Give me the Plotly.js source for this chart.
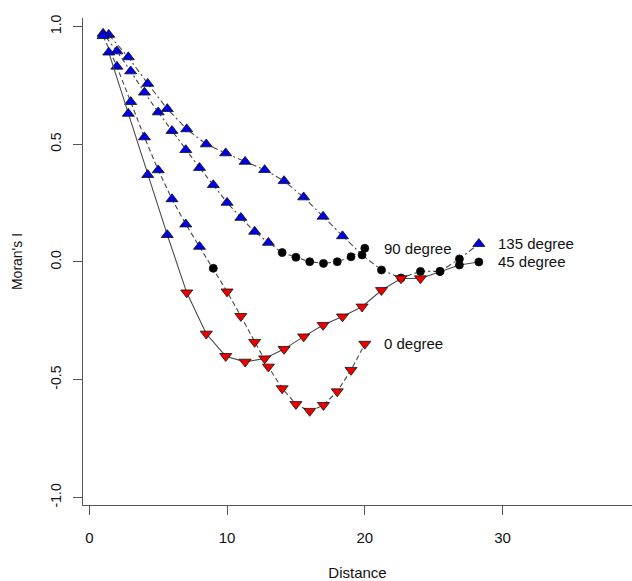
<!DOCTYPE html>
<html>
<head>
<meta charset="utf-8">
<script src="https://cdn.plot.ly/plotly-3.0.1.min.js"></script>
<style>html,body{margin:0;padding:0;background:#fff;}#chart{width:632px;height:581px;}</style>
</head>
<body>
<div id="chart"></div>
<script>
// Distance classes
var distAxial = [1, 2, 3, 4, 5, 6, 7, 8, 9, 10, 11, 12, 13, 14, 15, 16, 17, 18, 19, 20];
var distDiag = [1.41, 2.83, 4.24, 5.66, 7.07, 8.49, 9.90, 11.31, 12.73, 14.14, 15.56, 16.97, 18.38, 19.80, 21.21, 22.63, 24.04, 25.46, 26.87, 28.28];

// Moran's I values
var moran0 = [0.96, 0.83, 0.68, 0.53, 0.39, 0.267, 0.16, 0.065, -0.027, -0.126, -0.23, -0.34, -0.445, -0.537, -0.604, -0.633, -0.608, -0.55, -0.459, -0.348];
var moran90 = [0.97, 0.895, 0.81, 0.72, 0.636, 0.557, 0.476, 0.40, 0.327, 0.252, 0.188, 0.129, 0.082, 0.04, 0.02, 0.001, -0.006, 0.001, 0.022, 0.058];
var moran45 = [0.89, 0.63, 0.37, 0.115, -0.13, -0.305, -0.40, -0.424, -0.41, -0.37, -0.317, -0.268, -0.232, -0.19, -0.12, -0.07, -0.07, -0.04, -0.013, 0.0];
var moran135 = [0.965, 0.87, 0.757, 0.65, 0.564, 0.50, 0.462, 0.426, 0.391, 0.344, 0.275, 0.193, 0.11, 0.03, -0.034, -0.068, -0.04, -0.04, 0.013, 0.077];

// significance: "+" positive, "-" negative, "n" not significant
var sig0 = ["+","+","+","+","+","+","+","+","n","-","-","-","-","-","-","-","-","-","-","-"];
var sig90 = ["+","+","+","+","+","+","+","+","+","+","+","+","+","n","n","n","n","n","n","n"];
var sig45 = ["+","+","+","+","-","-","-","-","-","-","-","-","-","-","-","-","-","n","n","n"];
var sig135 = ["+","+","+","+","+","+","+","+","+","+","+","+","+","n","n","n","n","n","n","+"];

var labels = ["0 degree", "45 degree", "90 degree", "135 degree"];

function symbols(s){ return s.map(function(c){ return c === "+" ? "triangle-up" : (c === "-" ? "triangle-down" : "circle"); }); }
function fills(s){ return s.map(function(c){ return c === "+" ? "#0000e6" : (c === "-" ? "#ee0000" : "#000000"); }); }
function sizes(s){ return s.map(function(c){ return c === "n" ? 8 : 10.5; }); }

function mk(x, y, s, dash){
  return {
    x: x, y: y, type: "scatter", mode: "lines+markers",
    line: {color: "#4a4a4a", width: 1.1, dash: dash},
    marker: {symbol: symbols(s), color: fills(s), size: sizes(s), opacity: 1, line: {color: "#111", width: 0.8}},
    opacity: 1,
    showlegend: false, hoverinfo: "skip"
  };
}

var data = [
  mk(distDiag, moran135, sig135, "6px,3px,2px,3px"),
  mk(distAxial, moran90, sig90, "2px,3px,5px,3px"),
  mk(distAxial, moran0, sig0, "5px,3px"),
  mk(distDiag, moran45, sig45, "solid")
];

var ends = [
  [distAxial, moran0, labels[0]],
  [distDiag, moran45, labels[1]],
  [distAxial, moran90, labels[2]],
  [distDiag, moran135, labels[3]]
];
var annotations = ends.map(function(e){
  var n = e[0].length - 1;
  return {x: e[0][n], y: e[1][n], text: e[2], xref: "x", yref: "y", showarrow: false,
          xanchor: "left", yanchor: "middle", xshift: 17,
          font: {family: "Liberation Sans, Arial, sans-serif", size: 15, color: "#111"}};
});

var layout = {
  width: 632, height: 581,
  margin: {l: 83, r: 0, t: 18, b: 76},
  paper_bgcolor: "#fff", plot_bgcolor: "#fff",
  font: {family: "Liberation Sans, Arial, sans-serif", color: "#111"},
  xaxis: {
    range: [-0.46, 39.4], tickvals: [0, 10, 20, 30], ticktext: ["0", "10", "20", "30"],
    showline: true, linecolor: "#555", linewidth: 1, mirror: false,
    ticks: "outside", ticklen: 9, tickcolor: "#555", tickwidth: 1,
    showgrid: false, zeroline: false,
    tickfont: {size: 15, color: "#111"}, ticklabelstandoff: 10,
    title: {text: "Distance", font: {size: 15, color: "#111"}, standoff: 22}
  },
  yaxis: {
    range: [-1.032, 1.036], tickvals: [-1, -0.5, 0, 0.5, 1], ticktext: ["-1.0", "-0.5", "0.0", "0.5", "1.0"],
    showline: true, linecolor: "#555", linewidth: 1,
    ticks: "outside", ticklen: 9, tickcolor: "#555", tickwidth: 1,
    showgrid: false, zeroline: false, tickangle: -90,
    tickfont: {size: 14, color: "#111"}, ticklabelstandoff: 6,
    title: {text: "Moran's I", font: {size: 14, color: "#111"}, standoff: 22}
  },
  annotations: annotations
};

Plotly.newPlot("chart", data, layout, {displayModeBar: false, staticPlot: true});
</script>
</body>
</html>
